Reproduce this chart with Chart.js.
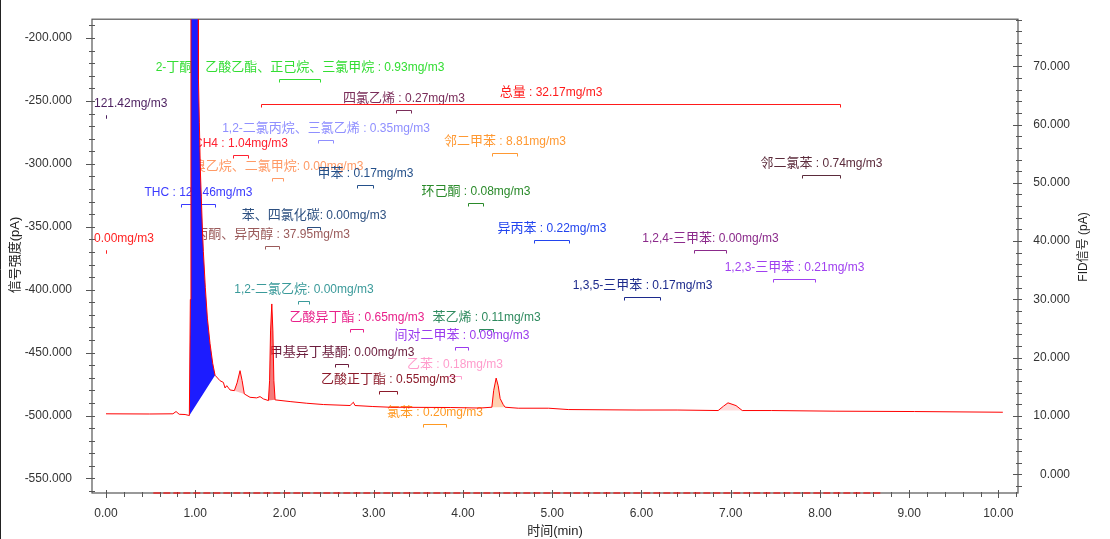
<!DOCTYPE html>
<html><head><meta charset="utf-8">
<script src="https://cdn.jsdelivr.net/npm/chart.js@4.4.1/dist/chart.umd.min.js"></script>
<style>html,body{margin:0;padding:0;background:#fff;}canvas{display:block;}</style>
</head><body>
<canvas id="c" width="1110" height="539"></canvas>
<script>
// ---------- data ----------
const traceTime = [0, 0.49, 0.75, 0.785, 0.82, 0.886, 0.934, 0.945, 0.952, 0.97, 1.0, 1.03, 1.035, 1.036, 1.046, 1.057, 1.08, 1.091, 1.113, 1.136, 1.166, 1.196, 1.222, 1.278, 1.315, 1.334, 1.353, 1.39, 1.438, 1.469, 1.502, 1.525, 1.55, 1.614, 1.689, 1.726, 1.763, 1.82, 1.833, 1.844, 1.858, 1.87, 1.881, 1.895, 2.063, 2.25, 2.436, 2.735, 2.772, 2.79, 2.99, 3.184, 3.857, 4.19, 4.324, 4.344, 4.372, 4.395, 4.417, 4.451, 4.473, 4.62, 4.96, 5.18, 5.95, 6.4, 6.86, 6.92, 6.97, 7.06, 7.13, 7.46, 8.17, 9.06, 10.05];
const traceSignal = [10.39, 10.36, 10.39, 10.78, 10.31, 10.27, 10.10, 30, 100, 140, 120, 90, 78, 67.7, 60.4, 52.2, 42.2, 38.2, 32.0, 26.8, 22.4, 19.0, 17.0, 16.06, 15.78, 14.82, 15.21, 14.48, 14.36, 15.7, 17.79, 16.1, 13.8, 13.22, 13.12, 13.34, 12.95, 12.66, 16.06, 24.6, 29.23, 24.6, 16.06, 12.78, 12.49, 12.2, 11.98, 11.81, 12.37, 11.81, 11.64, 11.52, 11.47, 11.38, 11.52, 14.36, 16.52, 15.2, 13.0, 11.98, 11.52, 11.35, 11.35, 11.12, 11.04, 11.04, 10.95, 11.7, 12.27, 11.8, 10.95, 10.95, 10.84, 10.78, 10.66];
const lowTime = [0.53, 8.68];
const lowSignal = [-561.6, -561.6];
const peakStart = [0.934, 1.438, 1.82, 4.324, 6.86];
const peakEnd = [1.222, 1.55, 1.895, 4.473, 7.13];

const annLabels = ['2-丁酮、乙酸乙酯、正己烷、三氯甲烷 : 0.93mg/m3', '四氯乙烯 : 0.27mg/m3', '总量 : 32.17mg/m3', '121.42mg/m3', '0.00mg/m3', '1,2-二氯丙烷、三氯乙烯 : 0.35mg/m3', 'CH4 : 1.04mg/m3', '溴乙烷、二氯甲烷: 0.00mg/m3', '甲苯 : 0.17mg/m3', '环己酮 : 0.08mg/m3', '邻二甲苯 : 8.81mg/m3', '邻二氯苯 : 0.74mg/m3', 'THC : 122.46mg/m3', '苯、四氯化碳: 0.00mg/m3', '丙酮、异丙醇 : 37.95mg/m3', '1,2-二氯乙烷: 0.00mg/m3', '异丙苯 : 0.22mg/m3', '1,2,4-三甲苯: 0.00mg/m3', '1,2,3-三甲苯 : 0.21mg/m3', '1,3,5-三甲苯 : 0.17mg/m3', '乙酸异丁酯 : 0.65mg/m3', '苯乙烯 : 0.11mg/m3', '间对二甲苯 : 0.09mg/m3', '甲基异丁基酮: 0.00mg/m3', '乙苯 : 0.18mg/m3', '乙酸正丁酯 : 0.55mg/m3', '氯苯 : 0.20mg/m3'];
const annStart = [1.943, 3.251, 1.738, 0, 0, 2.373, 1.420, 1.858, 2.811, 4.057, 4.327, 7.799, 0.837, 2.250, 1.783, 2.156, 4.798, 6.584, 7.474, 5.807, 2.735, 4.185, 3.913, 2.567, 3.838, 3.064, 3.557];
const annEnd = [2.399, 3.416, 8.225, 0, 0, 2.548, 1.595, 1.988, 2.990, 4.220, 4.610, 8.225, 1.222, 2.399, 1.943, 2.279, 5.183, 6.947, 7.940, 6.203, 2.878, 4.342, 4.062, 2.716, 3.977, 3.259, 3.812];
const annLevel = [67.85, 62.52, 63.48, 61.55, 38.55, 57.41, 54.79, 50.82, 49.57, 46.56, 55.08, 51.26, 46.44, 42.47, 39.23, 29.69, 40.2, 38.5, 33.49, 30.37, 24.87, 24.92, 21.91, 18.91, 16.92, 14.24, 8.69];

// ---------- styles ----------
const annColors = ['#33dd33', '#7a2d5a', '#ff1a1a', '#4b1e5e', '#ff2222', '#8f8fff', '#ff2030', '#ff9a66', '#24508a', '#2a8a2a', '#ff9933', '#5b2b3b', '#3a3aff', '#2c4f80', '#9a5a5a', '#3a9a9a', '#2244ee', '#8b2a8b', '#a040f0', '#1c2a8c', '#e8208a', '#2e8a5e', '#9a3aee', '#6b1c3c', '#ff9ccc', '#8b1a2a', '#ff9922'];
const peakColors = ['#1c1cff', 'rgba(255,110,110,0.45)', 'rgba(240,50,50,0.65)', 'rgba(255,165,100,0.5)', 'rgba(255,140,140,0.3)'];
const FONT = '"Liberation Sans", Arial, "Noto Sans CJK SC", sans-serif';
const LATIN_FONT = '12px "Liberation Sans", Arial, sans-serif';
const CJK_FONT = '13px "Noto Sans CJK SC", sans-serif';
const CJK_RE = /[\u3000-\u303f\u4e00-\u9fff\uff00-\uffef]/;

const tracePts = traceTime.map((t, i) => ({x: t, y: traceSignal[i]}));
const datasets = [
  {data: tracePts, yAxisID: 'yR', borderColor: '#ff0000', borderWidth: 1, pointRadius: 0, fill: false, tension: 0},
  {data: lowTime.map((t, i) => ({x: t, y: lowSignal[i]})), yAxisID: 'yL', borderColor: 'rgba(255,0,0,0.75)', borderWidth: 1.5, borderDash: [7, 3], pointRadius: 0, fill: false, clip: {left: 0, right: 0, top: 0, bottom: 2}}
];
peakStart.forEach((s, k) => {
  datasets.push({
    data: tracePts.filter(p => p.x >= s && p.x <= peakEnd[k]),
    yAxisID: 'yR', borderColor: 'rgba(0,0,0,0)', borderWidth: 0, pointRadius: 0,
    backgroundColor: peakColors[k], fill: 'shape', tension: 0
  });
});

function runs(str) {
  const out = [];
  for (const ch of str) {
    const cjk = CJK_RE.test(ch);
    if (out.length && out[out.length - 1].cjk === cjk) out[out.length - 1].s += ch;
    else out.push({cjk, s: ch});
  }
  return out;
}
function mixedWidth(ctx, rs) {
  let w = 0;
  rs.forEach(r => { ctx.font = r.cjk ? CJK_FONT : LATIN_FONT; w += ctx.measureText(r.s).width; });
  return w;
}
function mixedText(ctx, rs, x, y) {
  rs.forEach(r => { ctx.font = r.cjk ? CJK_FONT : LATIN_FONT; ctx.fillText(r.s, x, y); x += ctx.measureText(r.s).width; });
}

const decor = {
  id: 'decor',
  beforeDatasetsDraw(chart) {
    const ctx = chart.ctx, a = chart.chartArea;
    const xs = chart.scales.x, yl = chart.scales.yL, yr = chart.scales.yR;
    ctx.save();
    ctx.strokeStyle = '#222'; ctx.lineWidth = 1;
    ctx.beginPath(); ctx.moveTo(0.5, 0); ctx.lineTo(0.5, chart.height); ctx.stroke();
    ctx.strokeStyle = '#555'; ctx.lineWidth = 1.2;
    ctx.strokeRect(a.left, a.top, a.right - a.left, a.bottom - a.top);
    ctx.lineWidth = 1;
    const minor = (sc, step) => { const out = []; for (let v = Math.ceil(sc.min / step - 1e-9) * step; v <= sc.max + 1e-9; v += step) out.push(v); return out; };
    ctx.beginPath();
    yl.ticks.forEach(t => { const y = Math.round(yl.getPixelForValue(t.value)) + 0.5; ctx.moveTo(a.left - 6, y); ctx.lineTo(a.left + 3, y); });
    minor(yl, 10).forEach(v => { const y = Math.round(yl.getPixelForValue(v)) + 0.5; ctx.moveTo(a.left - 3, y); ctx.lineTo(a.left + 3, y); });
    yr.ticks.forEach(t => { const y = Math.round(yr.getPixelForValue(t.value)) + 0.5; ctx.moveTo(a.right - 5, y); ctx.lineTo(a.right + 4, y); });
    minor(yr, 2).forEach(v => { const y = Math.round(yr.getPixelForValue(v)) + 0.5; ctx.moveTo(a.right - 2, y); ctx.lineTo(a.right + 4, y); });
    xs.ticks.forEach(t => { const x = Math.round(xs.getPixelForValue(t.value)) + 0.5; ctx.moveTo(x, a.bottom - 3); ctx.lineTo(x, a.bottom + 5); });
    minor(xs, 0.2).forEach(v => { const x = Math.round(xs.getPixelForValue(v)) + 0.5; ctx.moveTo(x, a.bottom - 1); ctx.lineTo(x, a.bottom + 4); });
    ctx.stroke();
    // annotations: integration windows and labels
    ctx.textBaseline = 'alphabetic'; ctx.textAlign = 'left';
    annLabels.forEach((lab, i) => {
      const x1 = Math.round(xs.getPixelForValue(annStart[i])) + 0.5;
      const x2 = Math.round(xs.getPixelForValue(annEnd[i])) + 0.5;
      const y = Math.round(yr.getPixelForValue(annLevel[i])) + 0.5;
      ctx.strokeStyle = annColors[i]; ctx.fillStyle = annColors[i];
      ctx.beginPath();
      ctx.moveTo(x1, y + 3); ctx.lineTo(x1, y); ctx.lineTo(x2, y); ctx.lineTo(x2, y + 3);
      ctx.stroke();
      const rs = runs(lab);
      const w = mixedWidth(ctx, rs);
      let lx = (x1 + x2) / 2 - w / 2;
      lx = Math.max(a.left + 2, Math.min(a.right - 2 - w, lx));
      mixedText(ctx, rs, lx, y - 9);
    });
    ctx.restore();
  },
  afterDraw(chart) {
    const ctx = chart.ctx, a = chart.chartArea;
    ctx.save();
    ctx.fillStyle = '#222';
    ctx.textAlign = 'center'; ctx.textBaseline = 'middle';
    ctx.font = '13px ' + FONT;
    ctx.save(); ctx.translate(15, 255); ctx.rotate(-Math.PI / 2); ctx.fillText('信号强度(pA)', 0, 0); ctx.restore();
    ctx.font = '12px ' + FONT;
    ctx.save(); ctx.translate(1084, 247); ctx.rotate(-Math.PI / 2); ctx.fillText('FID信号 (pA)', 0, 0); ctx.restore();
    ctx.font = '13px ' + FONT;
    ctx.fillText('时间(min)', (a.left + a.right) / 2, 531);
    ctx.restore();
  }
};

new Chart(document.getElementById('c'), {
  type: 'line',
  data: {datasets},
  options: {
    responsive: false, animation: false, devicePixelRatio: 1,
    layout: {padding: {top: 16, right: 40, left: 0, bottom: 0}},
    plugins: {legend: {display: false}, tooltip: {enabled: false}},
    scales: {
      x: {type: 'linear', position: 'bottom', min: -0.157, max: 10.22,
          ticks: {stepSize: 1, includeBounds: false, autoSkip: false, maxRotation: 0, padding: 5, color: '#333', font: {size: 12, family: FONT}, callback: v => v.toFixed(2)},
          grid: {display: false}, border: {display: false},
          afterFit: s => { s.height = 46; }},
      yL: {type: 'linear', position: 'left', min: -561.6, max: -185,
          ticks: {stepSize: 50, includeBounds: false, padding: 12, color: '#333', font: {size: 12, family: FONT}, callback: v => v.toFixed(3)},
          grid: {display: false}, border: {display: false},
          afterFit: s => { s.width = 92; }},
      yR: {type: 'linear', position: 'right', min: -3.19, max: 78.06,
          ticks: {stepSize: 10, includeBounds: false, crossAlign: 'far', color: '#333', font: {size: 12, family: FONT}, callback: v => v.toFixed(3)},
          grid: {display: false}, border: {display: false},
          afterFit: s => { s.width = 52; }}
    }
  },
  plugins: [decor]
});
</script>
</body></html>
